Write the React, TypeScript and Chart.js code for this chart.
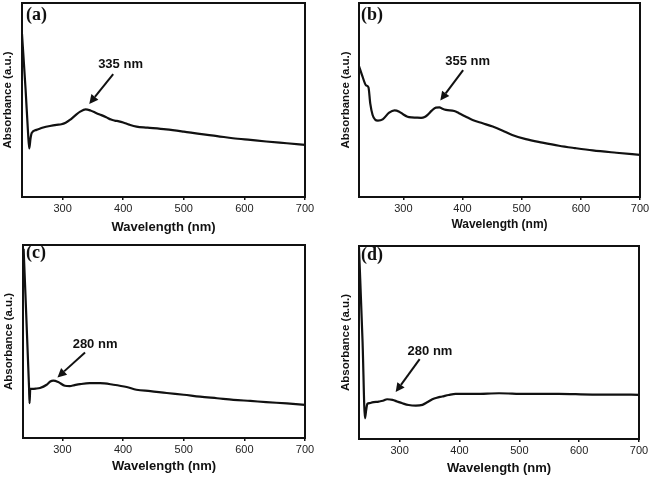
import { useEffect, useRef } from "react";
import { Chart, registerables } from "chart.js";

Chart.register(...registerables);

// ---- Data (wavelength in nm, absorbance in arbitrary units 0-100) ----
const wlA = [233, 239, 243, 245, 247, 249, 257, 268, 279, 290, 298, 305, 312, 320, 329, 338, 346, 356, 364, 372, 380, 386, 393, 400, 410, 422, 440, 471, 500, 526, 555, 581, 610, 636, 670, 700];
const absA = [84, 55, 33, 25, 30, 33, 34.6, 35.8, 36.6, 37.2, 37.5, 38.3, 39.7, 41.8, 44, 45.2, 44.6, 43.2, 42.2, 41.1, 39.9, 39.4, 39, 38.4, 37.3, 36.3, 35.8, 34.9, 33.7, 32.5, 31.4, 30.3, 29.4, 28.6, 27.7, 26.9];

const wlB = [225, 231, 237, 241, 244, 248, 252, 257, 265, 276, 285, 293, 300, 307, 314, 321, 330, 336, 341, 348, 355, 361, 366, 372, 386, 394, 405, 417, 434, 451, 468, 484, 507, 535, 563, 590, 620, 660, 700];
const absB = [67.5, 62, 57.5, 56.5, 48.3, 42.3, 40, 39.4, 40, 43.5, 44.7, 44, 42.5, 41.4, 41, 40.9, 40.8, 41.2, 42.3, 44.5, 46.1, 46.2, 45.5, 44.9, 44.3, 43.2, 41.5, 39.7, 38, 36.3, 34.2, 32, 29.8, 28, 26.4, 25.2, 24, 22.8, 21.7];

const wlC = [236, 245, 245.8, 247, 250, 256, 263, 274, 280, 285, 293, 304, 312, 320, 329, 345, 362, 384, 406, 422, 445, 472, 500, 527, 555, 582, 610, 636, 670, 700];
const absC = [98, 25.9, 18, 25.5, 25.5, 25.6, 25.9, 27.6, 29.3, 29.7, 29, 27.1, 26.9, 27.4, 27.9, 28.4, 28.4, 27.6, 26.4, 25, 24.3, 23.3, 22.4, 21.4, 20.6, 19.8, 19.2, 18.6, 17.9, 17.2];

const wlD = [232, 238, 242, 244, 246, 250, 254, 265, 272, 279, 288, 296, 304.5, 315, 327, 338, 346, 354.6, 362, 371, 382, 393.6, 427, 466, 510, 566, 622, 660, 700];
const absD = [99, 50, 10.7, 15, 18.2, 18.6, 19, 19.4, 19.8, 20.6, 20.3, 19.4, 18.5, 17.6, 17.3, 17.7, 19, 20.6, 21.4, 22, 22.8, 23.4, 23.4, 23.7, 23.4, 23.4, 23, 23, 22.9];

const xTicks = [300, 400, 500, 600, 700];
const xTitle = "Wavelength (nm)";
const yTitle = "Absorbance (a.u.)";

const panelLabels = ["(a)", "(b)", "(c)", "(d)"];
const peakLabels = ["335 nm", "355 nm", "280 nm", "280 nm"];

type Panel = {
  wl: number[];
  abs: number[];
  label: string;
  peak: string;
  xMin: number;
  arrow: { x1: number; y1: number; x2: number; y2: number; tx: number; ty: number };
  box: { left: number; top: number; w: number; h: number };
  pad: { left: number; top: number; right: number };
  yWidth: number;
  xHeight: number;
  xTitlePad: number;
  xTitleSize: number;
  yTitlePad: number;
  labelOff: { dx: number; dy: number };
};

const panels: Panel[] = [
  {
    wl: wlA, abs: absA, label: panelLabels[0], peak: peakLabels[0], xMin: 233,
    arrow: { x1: 383.5, y1: 63.4, x2: 344, y2: 48, tx: 395.6, ty: 68.5 },
    box: { left: 0, top: 0, w: 326, h: 238 },
    pad: { left: 0, top: 3, right: 21 }, yWidth: 22, xHeight: 41, xTitlePad: 2.5, xTitleSize: 13, yTitlePad: 1,
    labelOff: { dx: 4, dy: 12 },
  },
  {
    wl: wlB, abs: absB, label: panelLabels[1], peak: peakLabels[1], xMin: 225,
    arrow: { x1: 401, y1: 65.4, x2: 362.4, y2: 49.7, tx: 408.6, ty: 70 },
    box: { left: 326, top: 0, w: 326, h: 238 },
    pad: { left: 13, top: 3, right: 12 }, yWidth: 20, xHeight: 41, xTitlePad: 5.8, xTitleSize: 12, yTitlePad: 0,
    labelOff: { dx: 2, dy: 12 },
  },
  {
    wl: wlC, abs: absC, label: panelLabels[2], peak: peakLabels[2], xMin: 235,
    arrow: { x1: 337.3, y1: 44.3, x2: 291.8, y2: 31.4, tx: 353.8, ty: 48.3 },
    box: { left: 0, top: 238, w: 326, h: 239 },
    pad: { left: 0, top: 7, right: 21 }, yWidth: 23, xHeight: 39, xTitlePad: 3, xTitleSize: 13, yTitlePad: 2,
    labelOff: { dx: 3, dy: 8 },
  },
  {
    wl: wlD, abs: absD, label: panelLabels[3], peak: peakLabels[3], xMin: 232,
    arrow: { x1: 333.4, y1: 41.4, x2: 293.3, y2: 24.3, tx: 350.7, ty: 45.3 },
    box: { left: 326, top: 238, w: 326, h: 239 },
    pad: { left: 13, top: 8, right: 13 }, yWidth: 20, xHeight: 38, xTitlePad: 1, xTitleSize: 13, yTitlePad: 0,
    labelOff: { dx: 2, dy: 9 },
  },
];

function decorPlugin(p: Panel) {
  return {
    id: "decor",
    afterDatasetsDraw(chart: any) {
      const { ctx, chartArea } = chart;
      const xs = chart.scales.x;
      const ys = chart.scales.y;
      ctx.save();
      // frame
      ctx.strokeStyle = "#111";
      ctx.lineWidth = 2;
      ctx.strokeRect(chartArea.left, chartArea.top, chartArea.right - chartArea.left, chartArea.bottom - chartArea.top);
      // panel label
      ctx.fillStyle = "#111";
      ctx.font = "bold 18px 'Liberation Serif', 'Times New Roman', serif";
      ctx.textAlign = "left";
      ctx.textBaseline = "middle";
      ctx.fillText(p.label, chartArea.left + p.labelOff.dx, chartArea.top + p.labelOff.dy);
      // arrow
      const a = p.arrow;
      const x1 = xs.getPixelForValue(a.x1), y1 = ys.getPixelForValue(a.y1);
      const x2 = xs.getPixelForValue(a.x2), y2 = ys.getPixelForValue(a.y2);
      const ang = Math.atan2(y2 - y1, x2 - x1);
      const head = 9, hw = 4.5;
      const bx = x2 - head * Math.cos(ang), by = y2 - head * Math.sin(ang);
      ctx.strokeStyle = "#111";
      ctx.lineWidth = 2;
      ctx.beginPath();
      ctx.moveTo(x1, y1);
      ctx.lineTo(bx, by);
      ctx.stroke();
      ctx.beginPath();
      ctx.moveTo(x2, y2);
      ctx.lineTo(bx + hw * Math.sin(ang), by - hw * Math.cos(ang));
      ctx.lineTo(bx - hw * Math.sin(ang), by + hw * Math.cos(ang));
      ctx.closePath();
      ctx.fill();
      // peak text
      ctx.font = "bold 13px 'Liberation Sans', Arial, sans-serif";
      ctx.textAlign = "center";
      ctx.fillText(p.peak, xs.getPixelForValue(a.tx), ys.getPixelForValue(a.ty));
      ctx.restore();
    },
  };
}

function PanelChart({ p }: { p: Panel }) {
  const ref = useRef<HTMLCanvasElement>(null);
  useEffect(() => {
    if (!ref.current) return;
    const chart = new Chart(ref.current, {
      type: "line",
      data: {
        datasets: [
          {
            data: p.wl.map((x, i) => ({ x, y: p.abs[i] })),
            borderColor: "#111",
            borderWidth: 2.2,
            pointRadius: 0,
            fill: false,
            cubicInterpolationMode: "monotone",
          },
        ],
      },
      options: {
        animation: false,
        responsive: false,
        events: [],
        layout: { padding: { left: p.pad.left, top: p.pad.top, right: p.pad.right, bottom: 0 } },
        plugins: { legend: { display: false }, tooltip: { enabled: false }, title: { display: false } },
        scales: {
          x: {
            type: "linear",
            min: p.xMin,
            max: 700,
            afterBuildTicks: (s: any) => {
              s.ticks = xTicks.map((v) => ({ value: v }));
            },
            afterFit: (s: any) => {
              s.height = p.xHeight;
            },
            border: { display: false },
            grid: { display: true, drawOnChartArea: false, drawTicks: true, tickLength: 3, color: "#111", lineWidth: 1.5 },
            ticks: {
              maxRotation: 0,
              padding: 2,
              color: "#222",
              font: { family: "'Liberation Sans', Arial, sans-serif", size: 11 },
            },
            title: {
              display: true,
              text: xTitle,
              color: "#111",
              padding: { top: 0, bottom: p.xTitlePad },
              font: { family: "'Liberation Sans', Arial, sans-serif", size: p.xTitleSize, weight: "bold" },
            },
          },
          y: {
            type: "linear",
            min: 0,
            max: 100,
            afterFit: (s: any) => {
              s.width = p.yWidth;
            },
            border: { display: false },
            grid: { display: false },
            ticks: { display: false },
            title: {
              display: true,
              text: yTitle,
              color: "#111",
              padding: { top: p.yTitlePad, bottom: 0 },
              font: { family: "'Liberation Sans', Arial, sans-serif", size: 11.5, weight: "bold" },
            },
          },
        },
      },
      plugins: [decorPlugin(p)],
    } as any);
    return () => chart.destroy();
  }, [p]);
  return (
    <canvas
      ref={ref}
      width={p.box.w}
      height={p.box.h}
      style={{ position: "absolute", left: p.box.left, top: p.box.top, width: p.box.w, height: p.box.h }}
    />
  );
}

export default function App() {
  return (
    <div style={{ position: "fixed", left: 0, top: 0, width: 652, height: 477, background: "#fff", overflow: "hidden" }}>
      {panels.map((p, i) => (
        <PanelChart key={i} p={p} />
      ))}
    </div>
  );
}
